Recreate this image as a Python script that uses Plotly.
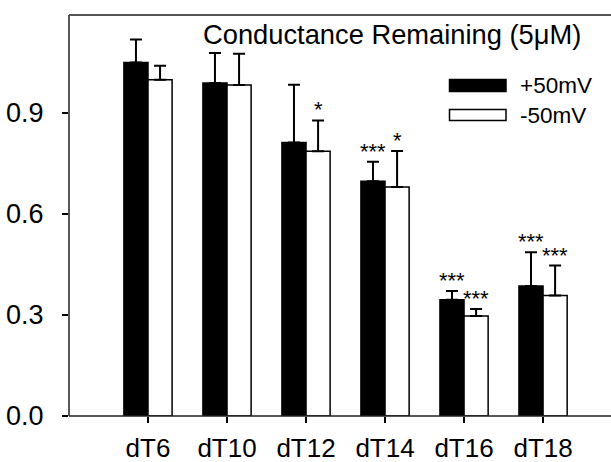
import plotly.graph_objects as go

# Conductance remaining after 5 uM block, per oligo length
categories = ["dT6", "dT10", "dT12", "dT14", "dT16", "dT18"]
pos50 = [1.050, 0.989, 0.812, 0.697, 0.345, 0.386]
pos50_err = [0.068, 0.089, 0.172, 0.058, 0.026, 0.100]
neg50 = [0.999, 0.983, 0.786, 0.680, 0.297, 0.358]
neg50_err = [0.041, 0.093, 0.092, 0.107, 0.021, 0.089]
pos50_sig = ["", "", "", "***", "***", "***"]
neg50_sig = ["", "", "*", "*", "***", "***"]

yticks = [0.0, 0.3, 0.6, 0.9]
ytick_text = ["0.0", "0.3", "0.6", "0.9"]

FONT = "Liberation Sans, Arial, sans-serif"
W, H = 611, 462
ML, MR, MT, MB = 69, 0, 15, 46
PW, PH = W - ML - MR, H - MT - MB


def px(x):
    return (x - ML) / PW


def py(y):
    return (H - MB - y) / PH


fig = go.Figure()
fig.add_trace(go.Bar(
    x=categories, y=pos50, name="+50mV",
    marker=dict(color="black", line=dict(color="black", width=1.5)),
    error_y=dict(type="data", array=pos50_err, arrayminus=[0] * len(pos50),
                 symmetric=False, color="black", thickness=2, width=6),
))
fig.add_trace(go.Bar(
    x=categories, y=neg50, name="-50mV",
    marker=dict(color="white", line=dict(color="black", width=1.5)),
    error_y=dict(type="data", array=neg50_err, arrayminus=[0] * len(neg50),
                 symmetric=False, color="black", thickness=2, width=6),
))

annotations = []
# significance marks above the error bars
for i, c in enumerate(categories):
    for vals, errs, sig, off in ((pos50, pos50_err, pos50_sig, -0.155),
                                 (neg50, neg50_err, neg50_sig, 0.155)):
        if sig[i]:
            annotations.append(dict(
                x=i + off, y=vals[i] + errs[i], xref="x", yref="y",
                text=sig[i], showarrow=False, yanchor="bottom",
                yshift=-4, font=dict(family=FONT, size=22, color="black"),
            ))

annotations.append(dict(
    x=px(201), y=py(34), xref="paper", yref="paper", xanchor="left",
    yanchor="middle", text="Conductance Remaining (5\u03bcM)", showarrow=False,
    font=dict(family=FONT, size=27.3, color="black"),
))

shapes = [
    # frame: left, bottom and top edges
    dict(type="line", xref="paper", yref="paper", x0=0, x1=1, y0=0, y1=0,
         line=dict(color="#222", width=1.5)),
    dict(type="line", xref="paper", yref="paper", x0=0, x1=0, y0=0, y1=1,
         line=dict(color="#222", width=1.5)),
    dict(type="line", xref="paper", yref="paper", x0=0, x1=1, y0=1, y1=1,
         line=dict(color="#555", width=2)),
    # legend drawn as wide swatches
    dict(type="rect", xref="paper", yref="paper", x0=px(449.5), x1=px(506),
         y0=py(91.5), y1=py(79.5), fillcolor="black",
         line=dict(color="black", width=1.5)),
    dict(type="rect", xref="paper", yref="paper", x0=px(449.5), x1=px(506),
         y0=py(120.5), y1=py(109.5), fillcolor="white",
         line=dict(color="black", width=1.5)),
]
for label, yc in (("+50mV", 85.5), ("-50mV", 115)):
    annotations.append(dict(
        x=px(518), y=py(yc), xref="paper", yref="paper", xanchor="left",
        yanchor="middle", text=label, showarrow=False,
        font=dict(family=FONT, size=22.5, color="black"),
    ))

fig.update_layout(
    width=W, height=H,
    margin=dict(l=ML, r=MR, t=MT, b=MB, pad=0, autoexpand=False),
    paper_bgcolor="white", plot_bgcolor="white",
    barmode="group", bargap=0.39, bargroupgap=0,
    showlegend=False,
    annotations=annotations, shapes=shapes,
    font=dict(family=FONT, color="black"),
)
fig.update_xaxes(
    range=[-1.0, 5.86], showgrid=False, zeroline=False, automargin=False,
    showline=False,
    ticks="outside", ticklen=6, tickwidth=1.5, tickcolor="black",
    tickfont=dict(family=FONT, size=26, color="black"),
    ticklabelstandoff=3,
)
fig.update_yaxes(
    range=[0, 1.191], showgrid=False, zeroline=False, automargin=False,
    showline=False,
    tickvals=yticks, ticktext=ytick_text,
    ticks="outside", ticklen=6, tickwidth=1.5, tickcolor="black",
    tickfont=dict(family=FONT, size=27, color="black"),
    ticklabelstandoff=13,
)

fig.write_html("out.html")
